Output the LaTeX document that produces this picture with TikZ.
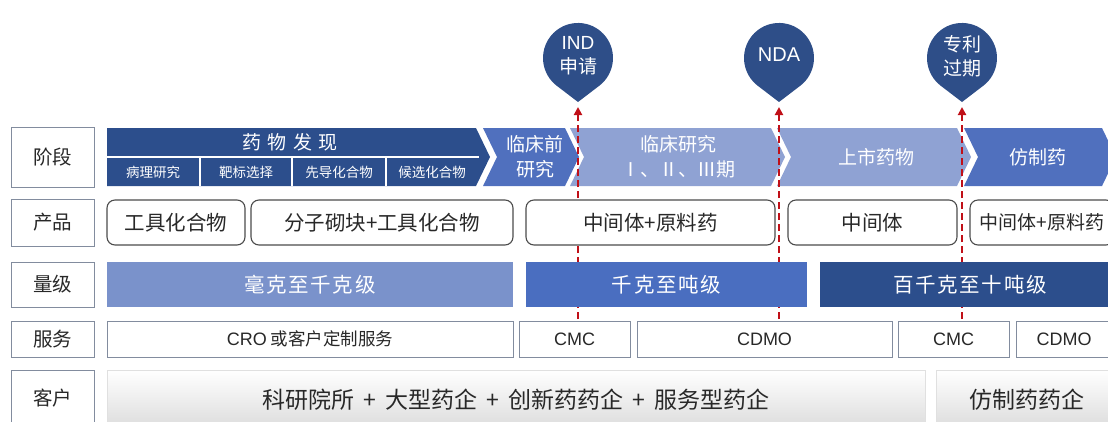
\documentclass[tikz,border=0pt]{standalone}
\usepackage{fontspec}
\setmainfont{Noto Sans CJK SC}
\newfontfamily\latin{Liberation Sans}
\usetikzlibrary{arrows.meta}

\definecolor{darkblue}{RGB}{44,78,140}
\definecolor{midblue}{RGB}{80,112,190}
\definecolor{lightblue}{RGB}{143,162,211}
\definecolor{paleblue}{RGB}{122,146,203}
\definecolor{kgblue}{RGB}{74,110,192}
\definecolor{pinblue}{RGB}{46,78,136}
\definecolor{framegray}{RGB}{130,140,158}
\definecolor{textgray}{RGB}{40,40,40}
\definecolor{redline}{RGB}{192,16,24}

\tikzset{
  rowlabel/.style={draw=framegray, line width=1pt, fill=white, minimum width=83pt,
    text=textgray, font=\fontsize{19.5}{22}\selectfont, inner sep=0pt},
  prodbox/.style={draw=black!70, line width=1.1pt, rounded corners=8pt, fill=white,
    minimum height=45pt, text=textgray, font=\fontsize{20.5}{22}\selectfont, inner sep=0pt},
  scalebox/.style={minimum height=45pt, text=white, inner sep=0pt,
    font=\fontsize{20.5}{22}\selectfont\addfontfeature{LetterSpace=8}},
  servbox/.style={draw=framegray, line width=1pt, fill=white, minimum height=36pt,
    text=textgray, font=\fontsize{17.5}{20}\selectfont, inner sep=0pt},
  servlatin/.style={servbox, font=\latin\fontsize{18}{20}\selectfont},
  custbox/.style={draw=black!12, line width=0.8pt, top color=white, bottom color=black!14,
    minimum height=60pt, text=textgray, font=\fontsize{23}{25}\selectfont, inner sep=0pt},
  stagetext/.style={text=white, font=\fontsize{19}{25}\selectfont, align=center, inner sep=0pt},
  subtext/.style={text=white, font=\fontsize{13.5}{16}\selectfont, inner sep=0pt},
  pintext/.style={text=white, font=\fontsize{19}{24}\selectfont, align=center, inner sep=0pt},
  milestone/.style={draw=redline, line width=2.2pt, dash pattern=on 7pt off 4pt,
    -{Triangle[length=8pt,width=8pt]}}
}

\begin{document}
\begin{tikzpicture}[x=1pt, y=-1pt]
  \useasboundingbox (0,0) rectangle (1108,421);

  % 左侧栏目
  \node[rowlabel, minimum height=60pt] (lstage) at (52.5,157) {阶段};
  \node[rowlabel, minimum height=47pt] (lprod) at (52.5,222.5) {产品};
  \node[rowlabel, minimum height=45pt] (lscale) at (52.5,284.5) {量级};
  \node[rowlabel, minimum height=36pt] (lserv) at (52.5,339) {服务};
  \node[rowlabel, minimum height=56pt] (lcust) at (52.5,398) {客户};

  % 阶段箭头
  \fill[darkblue] (107,128) -- (476,128) -- (490,157) -- (476,186) -- (107,186) -- cycle;
  \draw[white, line width=1.5pt] (107,157) -- (479,157);
  \foreach \x in {200,292,386}
    \draw[white, line width=1.5pt] (\x,157) -- (\x,186);
  \fill[midblue] (483,128) -- (565,128) -- (579,157) -- (565,186) -- (483,186) -- (497,157) -- cycle;
  \fill[lightblue] (570,128) -- (771,128) -- (785,157) -- (771,186) -- (570,186) -- (584,157) -- cycle;
  \fill[lightblue] (777,128) -- (957,128) -- (971,157) -- (957,186) -- (777,186) -- (791,157) -- cycle;
  \fill[midblue] (964,128) -- (1102,128) -- (1116,157) -- (1102,186) -- (964,186) -- (978,157) -- cycle;

  \node[stagetext] (discovery) at (290,142) {\addfontfeature{LetterSpace=10}药 物 发 现};
  \node[subtext] (pathology) at (153,172) {病理研究};
  \node[subtext] (target) at (246,172) {靶标选择};
  \node[subtext] (lead) at (339,172) {先导化合物};
  \node[subtext] (candidate) at (432,172) {候选化合物};
  \node[stagetext] (preclin) at (535,157) {临床前\\研究};
  \node[stagetext] (clinical) at (678,157) {临床研究\\Ⅰ、Ⅱ、Ⅲ期};
  \node[stagetext] (market) at (876,157) {上市药物};
  \node[stagetext] (generic) at (1038,157) {仿制药};

  % 里程碑
  \fill[pinblue] (578,102) -- (599.2,85.8) arc[start angle=52.7, end angle=-232.7, radius=35] -- cycle;
  \fill[pinblue] (779,102) -- (800.2,85.8) arc[start angle=52.7, end angle=-232.7, radius=35] -- cycle;
  \fill[pinblue] (962,102) -- (983.2,85.8) arc[start angle=52.7, end angle=-232.7, radius=35] -- cycle;
  \node[pintext] (ind) at (578,56) {{\latin IND}\\申请};
  \node[pintext, font=\latin\fontsize{20}{24}\selectfont] (nda) at (779,55) {NDA};
  \node[pintext] (patent) at (962,56) {专利\\过期};

  \coordinate (indtop) at (578,107);
  \coordinate (indfoot) at (578,330);
  \coordinate (ndatop) at (779,107);
  \coordinate (ndafoot) at (779,330);
  \coordinate (pattop) at (962,107);
  \coordinate (patfoot) at (962,330);
  \draw[milestone] (indfoot) -- (indtop);
  \draw[milestone] (ndafoot) -- (ndatop);
  \draw[milestone] (patfoot) -- (pattop);

  % 产品
  \node[prodbox, minimum width=138pt] (tool) at (176,222.5) {工具化合物};
  \node[prodbox, minimum width=262pt] (block) at (382,222.5) {分子砌块+工具化合物};
  \node[prodbox, minimum width=249pt] (inter1) at (650.5,222.5) {中间体+原料药};
  \node[prodbox, minimum width=169pt] (inter2) at (872.5,222.5) {中间体};
  \node[prodbox, minimum width=144pt, font=\fontsize{19}{22}\selectfont] (inter3) at (1042,222.5) {中间体+原料药};

  % 量级
  \node[scalebox, fill=paleblue, minimum width=406pt] (mg) at (310,284.5) {毫克至千克级};
  \node[scalebox, fill=kgblue, minimum width=281pt] (kg) at (666.5,284.5) {千克至吨级};
  \node[scalebox, fill=darkblue, minimum width=300pt] (ton) at (970,284.5) {百千克至十吨级};

  % 服务
  \node[servbox, minimum width=406pt] (cro) at (310,339) {{\latin\fontsize{18}{20}\selectfont CRO} 或客户定制服务};
  \node[servlatin, minimum width=111pt] (cmc1) at (574.5,339) {CMC};
  \node[servlatin, minimum width=255pt] (cdmo1) at (764.5,339) {CDMO};
  \node[servlatin, minimum width=111pt] (cmc2) at (953.5,339) {CMC};
  \node[servlatin, minimum width=96pt] (cdmo2) at (1064,339) {CDMO};

  % 客户
  \node[custbox, minimum width=818pt] (innov) at (516,400) {科研院所 \,+\, 大型药企 \,+\, 创新药药企 \,+\, 服务型药企};
  \node[custbox, minimum width=182pt] (genco) at (1027,400) {仿制药药企};
\end{tikzpicture}
\end{document}
